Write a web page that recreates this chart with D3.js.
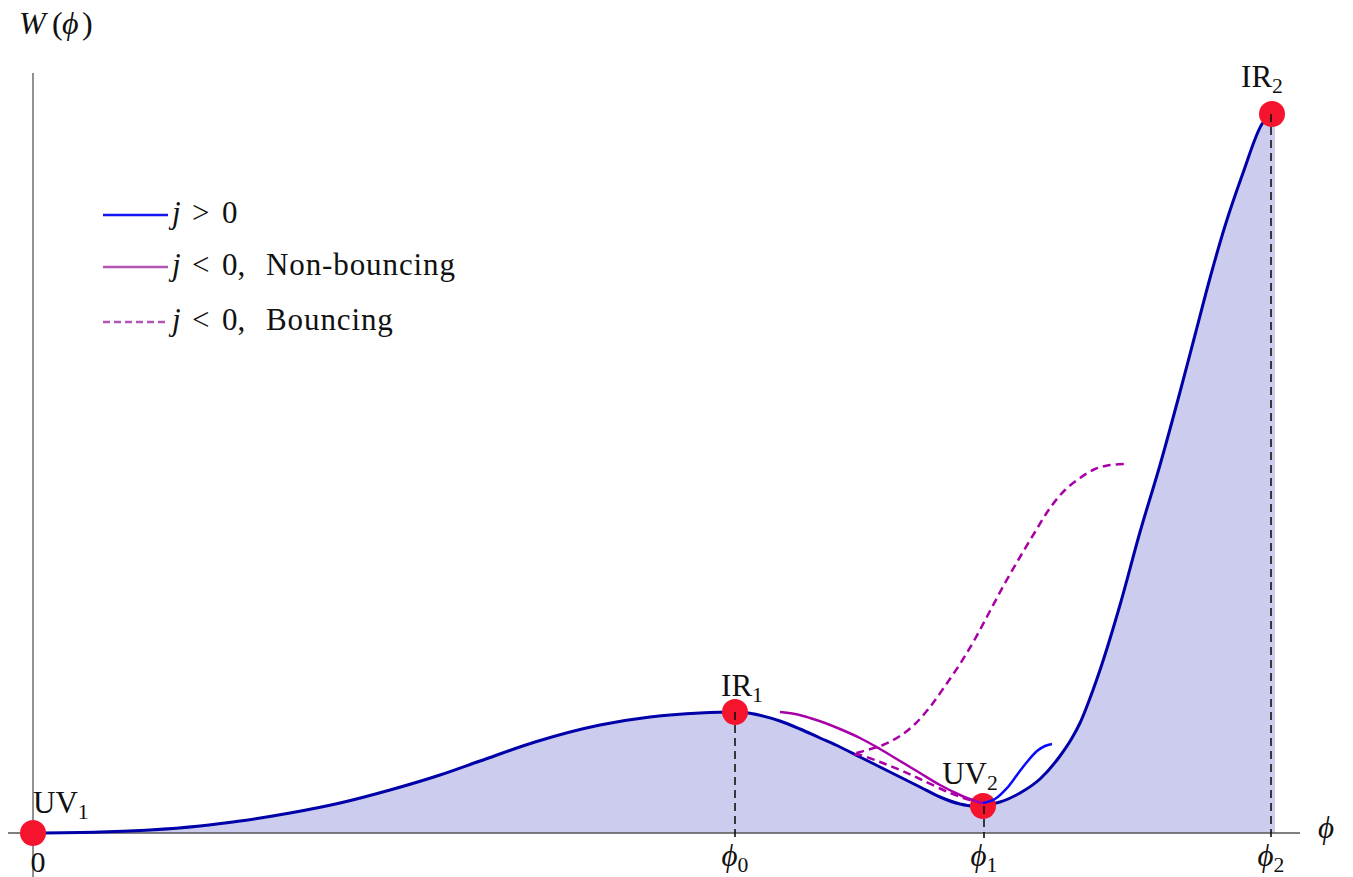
<!DOCTYPE html>
<html>
<head>
<meta charset="utf-8">
<script src="https://cdn.jsdelivr.net/npm/d3@7"></script>
<style>
  html, body { margin: 0; padding: 0; background: #fff; }
  svg { display: block; }
</style>
</head>
<body>
<svg id="chart" width="1353" height="877" font-family="'Liberation Serif', 'Times New Roman', Times, 'DejaVu Serif', serif"></svg>
<script>
// Superpotential W(phi): sampled (phi, W) pairs
const mainPhi = [0, 0.268, 0.468, 0.668, 0.828, 1.028, 1.228, 1.428, 1.628, 1.788, 2.008, 2.268, 2.468, 2.668, 2.808,
  2.988, 3.068, 3.148, 3.228, 3.308, 3.388, 3.468, 3.548, 3.628, 3.708, 3.76, 3.868, 3.948, 4.028, 4.108, 4.156,
  4.188, 4.24, 4.268, 4.348, 4.428, 4.508, 4.588, 4.648, 4.708, 4.768, 4.84, 4.916, 4.956, 4.968];
const mainW = [0, 0.01, 0.03, 0.07, 0.12, 0.20, 0.30, 0.43, 0.58, 0.72, 0.91, 1.08, 1.16, 1.20, 1.21,
  1.12, 1.04, 0.95, 0.86, 0.76, 0.66, 0.56, 0.46, 0.36, 0.29, 0.27, 0.31, 0.40, 0.54, 0.77, 0.95,
  1.10, 1.43, 1.63, 2.28, 3.01, 3.68, 4.41, 4.98, 5.55, 6.07, 6.60, 7.09, 7.19, 7.22];

// Flow with j > 0
const posPhi = [3.80, 3.848, 3.896, 3.936, 3.976, 4.016, 4.048, 4.076];
const posW = [0.30, 0.34, 0.45, 0.58, 0.71, 0.82, 0.87, 0.89];

// Flow with j < 0, non-bouncing
const nbPhi = [2.988, 3.048, 3.108, 3.168, 3.228, 3.308, 3.388, 3.468, 3.548, 3.628, 3.708, 3.768, 3.80];
const nbW = [1.21, 1.19, 1.15, 1.10, 1.04, 0.95, 0.84, 0.72, 0.60, 0.48, 0.38, 0.32, 0.30];

// Flow with j < 0, bouncing (leaves UV2, turns back near phi ~ 3.28)
const bPhi = [3.80, 3.748, 3.668, 3.548, 3.468, 3.388, 3.308, 3.28, 3.308, 3.40, 3.468, 3.528, 3.588, 3.648,
  3.708, 3.768, 3.828, 3.888, 3.948, 4.008, 4.068, 4.128, 4.188, 4.248, 4.308, 4.372];
const bW = [0.30, 0.33, 0.40, 0.54, 0.63, 0.71, 0.78, 0.79, 0.81, 0.88, 0.97, 1.09, 1.26, 1.47,
  1.69, 1.94, 2.22, 2.50, 2.76, 3.01, 3.25, 3.43, 3.55, 3.64, 3.68, 3.69];

// Fixed points
const fpNames = ["UV", "IR", "UV", "IR"];
const fpSubs = ["1", "1", "2", "2"];
const fpPhi = [0, 2.808, 3.80, 4.956];
const fpW = [0, 1.21, 0.27, 7.19];

// Marked positions on the phi axis
const tickPhi = [2.808, 3.804, 4.952];
const tickSubs = ["0", "1", "2"];
const tickW = [1.21, 0.27, 7.19];

// Legend entries: relation, description
const legendRel = [">", "<", "<"];
const legendText = ["", "Non-bouncing", "Bouncing"];
const legendColors = ["#1414f5", "#b055b3", "#b055b3"];
const legendDash = [null, null, "7,4"];

const svg = d3.select("#chart");
const x = d3.scaleLinear().domain([0, 5]).range([33, 1283]);
const y = d3.scaleLinear().domain([0, 7.5]).range([833, 83]);

const zip = (a, b) => a.map((v, i) => [v, b[i]]);
const mainPts = zip(mainPhi, mainW);

// shaded region under W
svg.append("path")
  .datum(mainPts)
  .attr("fill", "#ccccee")
  .attr("d", d3.area().x(d => x(d[0])).y0(y(0)).y1(d => y(d[1])).curve(d3.curveMonotoneX));

// axes
svg.append("line").attr("x1", 8).attr("x2", 1300).attr("y1", y(0)).attr("y2", y(0))
  .attr("stroke", "#555").attr("stroke-width", 1.5);
svg.append("line").attr("x1", x(0)).attr("x2", x(0)).attr("y1", 73).attr("y2", 877)
  .attr("stroke", "#222").attr("stroke-width", 1);

// W curve
svg.append("path")
  .datum(mainPts.slice(0, mainPts.length - 1))
  .attr("fill", "none").attr("stroke", "#0000a8").attr("stroke-width", 3)
  .attr("d", d3.line().x(d => x(d[0])).y(d => y(d[1])).curve(d3.curveMonotoneX));

// fixed point markers
svg.selectAll("circle.fp")
  .data(fpPhi.map((p, i) => ({ p, w: fpW[i] })))
  .join("circle").attr("class", "fp")
  .attr("cx", d => x(d.p)).attr("cy", d => y(d.w)).attr("r", 13)
  .attr("fill", "#f5142d");

// dashed drop lines
svg.selectAll("line.drop")
  .data(tickPhi.map((p, i) => ({ p, w: tickW[i] })))
  .join("line").attr("class", "drop")
  .attr("x1", d => x(d.p)).attr("x2", d => x(d.p))
  .attr("y1", d => y(d.w)).attr("y2", y(0) + 5)
  .attr("stroke", "#111").attr("stroke-width", 1.6).attr("stroke-dasharray", "8,5");

// flows
const lineCR = d3.line().x(d => x(d[0])).y(d => y(d[1])).curve(d3.curveCatmullRom.alpha(0.5));

svg.append("path").datum(zip(nbPhi, nbW))
  .attr("fill", "none").attr("stroke", "#a800a8").attr("stroke-width", 2.5).attr("d", lineCR);
svg.append("path").datum(zip(bPhi, bW))
  .attr("fill", "none").attr("stroke", "#a800a8").attr("stroke-width", 2.5)
  .attr("stroke-dasharray", "8,5").attr("d", lineCR);
svg.append("path").datum(zip(posPhi, posW))
  .attr("fill", "none").attr("stroke", "#0a0aff").attr("stroke-width", 2.5).attr("d", lineCR);

// labels with subscripts
function subLabel(g, px, py, main, sub, anchor, italic, size) {
  const t = g.append("text").attr("x", px).attr("y", py).attr("text-anchor", anchor)
    .attr("font-size", size).attr("fill", "#111");
  t.append("tspan").text(main).attr("font-style", italic ? "italic" : "normal");
  t.append("tspan").text(sub).attr("font-size", size * 0.7).attr("dy", 6);
  return t;
}

const fpLabelPos = [[33, 813, "start"], [742, 696, "middle"], [970, 784, "middle"], [1262, 87, "middle"]];
fpNames.forEach((n, i) => {
  const [px, py, a] = fpLabelPos[i];
  subLabel(svg, px, py, n, fpSubs[i], a, false, 31);
});

tickPhi.forEach((p, i) => {
  subLabel(svg, x(p), 866, "ϕ", tickSubs[i], "middle", true, 31);
});
svg.append("text").attr("x", 38).attr("y", 872).attr("text-anchor", "middle")
  .attr("font-size", 30).attr("fill", "#111").text("0");

// axis titles
svg.append("text").attr("x", 1326).attr("y", 838).attr("text-anchor", "middle")
  .attr("font-size", 31).attr("font-style", "italic").attr("fill", "#111").text("ϕ");
const wt = svg.append("text").attr("y", 34).attr("font-size", 32).attr("fill", "#111");
wt.append("tspan").attr("x", 19).attr("font-style", "italic").text("W");
wt.append("tspan").attr("x", 52).text("(");
wt.append("tspan").attr("x", 62).attr("font-style", "italic").text("ϕ");
wt.append("tspan").attr("x", 82).text(")");

// legend
const legY = [215, 267, 322];
legendRel.forEach((rel, i) => {
  svg.append("line").attr("x1", 103).attr("x2", 168).attr("y1", legY[i]).attr("y2", legY[i])
    .attr("stroke", legendColors[i]).attr("stroke-width", 2.5)
    .attr("stroke-dasharray", legendDash[i]);
  const t = svg.append("text").attr("y", legY[i] + 8).attr("font-size", 31).attr("fill", "#111");
  t.append("tspan").attr("x", 172).attr("font-style", "italic").text("j");
  t.append("tspan").attr("x", 192).text(rel);
  t.append("tspan").attr("x", 222).text(legendText[i] ? "0," : "0");
  if (legendText[i]) {
    t.append("tspan").attr("x", 266).attr("letter-spacing", 0.9).text(legendText[i]);
  }
});
</script>
</body>
</html>
